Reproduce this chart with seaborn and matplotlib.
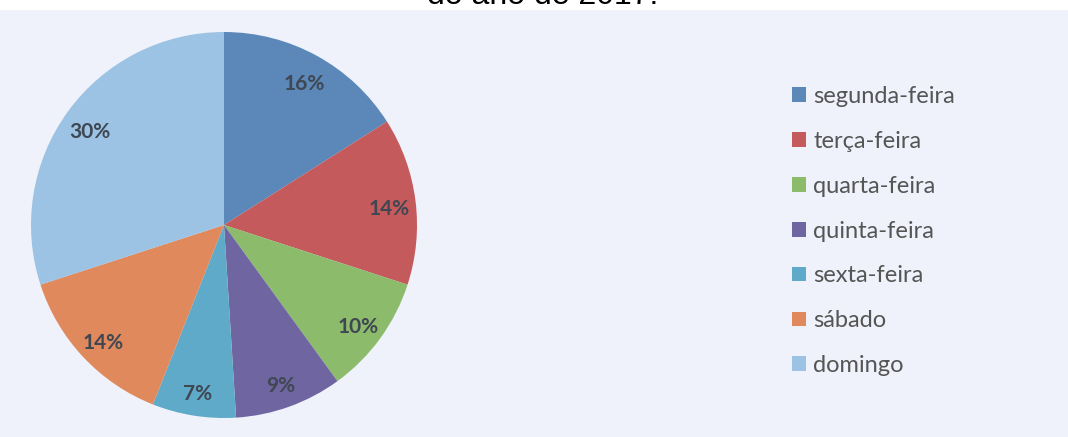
import matplotlib
matplotlib.use("Agg")
import numpy as np
import matplotlib.pyplot as plt
import seaborn as sns
from matplotlib.patches import Rectangle, Patch

days = ["segunda-feira", "terça-feira", "quarta-feira", "quinta-feira",
        "sexta-feira", "sábado", "domingo"]
shares = [16, 14, 10, 9, 7, 14, 30]
labels = ["16%", "14%", "10%", "9%", "7%", "14%", "30%"]
colors = ["#5b88b8", "#c45a5c", "#8dbb6c", "#6f65a0", "#5faac8", "#e0895c", "#9cc3e3"]
title_text = "do ano de 2017."

sns.set_theme(style="white")
plt.rcParams["font.family"] = ["Lato", "DejaVu Sans"]

fig = plt.figure(figsize=(10.68, 4.37), dpi=100)
fig.patch.set_facecolor("white")
# photo background area
bg = Rectangle((0, 0), 1, 1 - 10 / 437, transform=fig.transFigure,
               facecolor="#eff2fa", edgecolor="none", zorder=-10)
fig.add_artist(bg)

ax = fig.add_axes([31 / 1068, (437 - 418) / 437, 386 / 1068, 386 / 437])
ax.set_zorder(5)
ax.set_facecolor("none")
wedges, texts = ax.pie(shares, colors=colors, startangle=90, counterclock=False,
                       radius=1, wedgeprops=dict(linewidth=0))
for w, lab in zip(wedges, labels):
    ang = np.deg2rad((w.theta1 + w.theta2) / 2)
    ax.text(0.86 * np.cos(ang), 0.86 * np.sin(ang) - 0.025, lab, ha="center", va="center",
            fontsize=15, fontweight="bold", color="#3f4752")
ax.set_xlim(-1, 1)
ax.set_ylim(-1, 1)
ax.set_aspect("equal")
ax.axis("off")

handles = [Patch(facecolor=c, edgecolor="none") for c in colors]
leg = fig.legend(handles, days, loc="upper left", bbox_to_anchor=(792 / 1068, 1 - 86 / 437),
                 frameon=False, fontsize=17, labelcolor="#555555",
                 handlelength=0.58, handleheight=0.58, handletextpad=0.33,
                 labelspacing=1.01, borderpad=0, borderaxespad=0)
leg.set_zorder(6)

fig.text(543 / 1068, 1 - 4 / 437, title_text, ha="center", va="baseline",
         fontsize=23, color="black", family=["Liberation Sans", "DejaVu Sans"], zorder=7)

fig.savefig("out.png", dpi=100, facecolor=fig.get_facecolor())
